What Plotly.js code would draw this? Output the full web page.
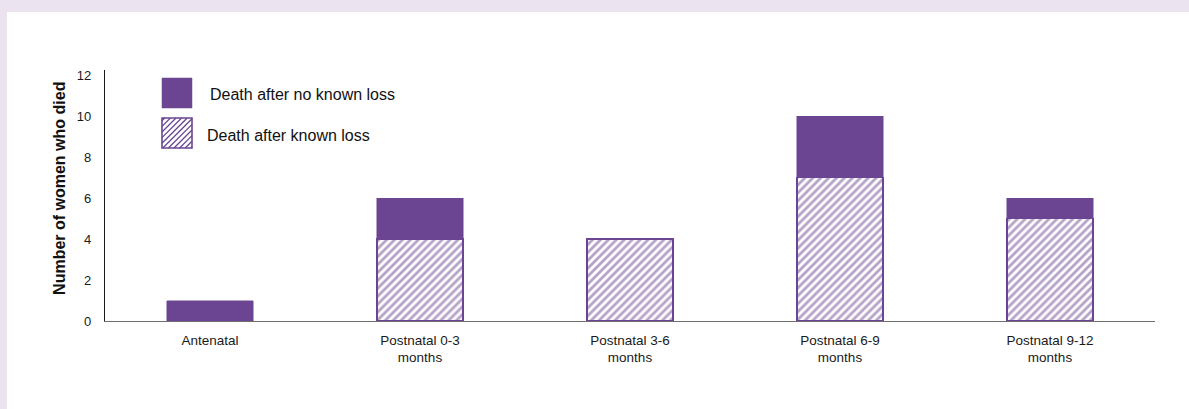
<!DOCTYPE html>
<html>
<head>
<meta charset="utf-8">
<script src="https://cdn.plot.ly/plotly-3.0.1.min.js"></script>
<style>
  html, body { margin: 0; padding: 0; background: #EBE3F0; width: 1189px; height: 409px; overflow: hidden; }
  #chart { position: absolute; left: 7px; top: 12px; width: 1182px; height: 397px; background: #fff; }
</style>
</head>
<body>
<div id="chart"></div>
<script>
const categories = ["Antenatal", "Postnatal 0-3<br>months", "Postnatal 3-6<br>months", "Postnatal 6-9<br>months", "Postnatal 9-12<br>months"];
const knownLoss = [0, 4, 4, 7, 5];
const noKnownLoss = [1, 2, 0, 3, 1];
const legendLabels = ["Death after no known loss", "Death after known loss"];
const yTitle = "Number of women who died";

const PURPLE = "#6B4592";
const FONT = "Liberation Sans, Arial, sans-serif";

const traceKnown = {
  type: "bar",
  x: categories,
  y: knownLoss.map(v => v === 0 ? null : v),
  width: 0.41,
  name: legendLabels[1],
  marker: {
    color: "#ffffff",
    pattern: { shape: "/", fgcolor: PURPLE, bgcolor: "#ffffff", size: 5.6, solidity: 0.5, fillmode: "overlay" },
    line: { color: PURPLE, width: 1.6 }
  },
  hoverinfo: "skip"
};
const traceNoKnown = {
  type: "bar",
  x: categories,
  y: noKnownLoss.map(v => v === 0 ? null : v),
  width: 0.41,
  name: legendLabels[0],
  marker: { color: PURPLE, line: { color: PURPLE, width: 0.5 } },
  hoverinfo: "skip"
};

// Legend drawn with shapes (pixel offsets from plot top-left)
const shapes = [];
function box(x0, x1, yTop, yBot, fill) {
  return {
    type: "rect", xref: "paper", yref: "paper", xsizemode: "pixel", ysizemode: "pixel",
    xanchor: 0, yanchor: 1, x0: x0, x1: x1, y0: -yBot, y1: -yTop,
    fillcolor: fill, line: { color: PURPLE, width: fill === PURPLE ? 0.5 : 1.6 }
  };
}
shapes.push(box(57, 87, 8, 38, PURPLE));
(function () {
  const x0 = 57, x1 = 87, yTop = 48, yBot = 78;
  const w = x1 - x0, h = yBot - yTop;
  let path = "";
  const step = 5.6;
  for (let c = -h + step / 2; c < w; c += step) {
    let sStart = Math.max(0, -c), sEnd = Math.min(h, w - c);
    if (sEnd <= sStart) continue;
    const ax = x0 + c + sStart, ay = -yBot + sStart;
    const bx = x0 + c + sEnd, by = -yBot + sEnd;
    path += `M${ax.toFixed(2)},${ay.toFixed(2)}L${bx.toFixed(2)},${by.toFixed(2)}`;
  }
  shapes.push({
    type: "path", xref: "paper", yref: "paper", xsizemode: "pixel", ysizemode: "pixel",
    xanchor: 0, yanchor: 1, path: path, line: { color: PURPLE, width: 1.3 }
  });
  shapes.push(box(x0, x1, yTop, yBot, "rgba(0,0,0,0)"));
})();

const annotations = [
  { xref: "paper", yref: "paper", x: 0.098, y: 0.904, xanchor: "left", yanchor: "middle", showarrow: false,
    text: legendLabels[0], font: { family: FONT, size: 16, color: "#111" } },
  { xref: "paper", yref: "paper", x: 0.0952, y: 0.741, xanchor: "left", yanchor: "middle", showarrow: false,
    text: legendLabels[1], font: { family: FONT, size: 16, color: "#111" } },
  { xref: "paper", yref: "paper", x: -0.0429, y: 0.53, xanchor: "center", yanchor: "middle", showarrow: false,
    textangle: -90, text: "<b>" + yTitle + "</b>", font: { family: FONT, size: 16, color: "#111" } }
];

const layout = {
  width: 1182, height: 397,
  margin: { l: 98, r: 34, t: 58, b: 88, pad: 0 },
  paper_bgcolor: "#ffffff", plot_bgcolor: "#ffffff",
  barmode: "stack",
  showlegend: false,
  font: { family: FONT, size: 13, color: "#1a1a1a" },
  xaxis: {
    type: "category", range: [-0.5, 4.5], showgrid: false, zeroline: false,
    showline: true, linecolor: "#6e6e6e", linewidth: 1.3,
    ticks: "", ticklabelstandoff: 6, tickfont: { family: FONT, size: 13.5, color: "#1a1a1a" },
    fixedrange: true
  },
  yaxis: {
    range: [0, 12.25], tickvals: [0, 2, 4, 6, 8, 10, 12], showgrid: false, zeroline: false,
    showline: true, linecolor: "#1a1a1a", linewidth: 1.2,
    ticks: "", ticklabelstandoff: 10, tickfont: { family: FONT, size: 13, color: "#1a1a1a" },
    automargin: false, fixedrange: true
  },
  shapes: shapes,
  annotations: annotations
};

Plotly.newPlot("chart", [traceKnown, traceNoKnown], layout, { staticPlot: true, displayModeBar: false });
</script>
</body>
</html>
